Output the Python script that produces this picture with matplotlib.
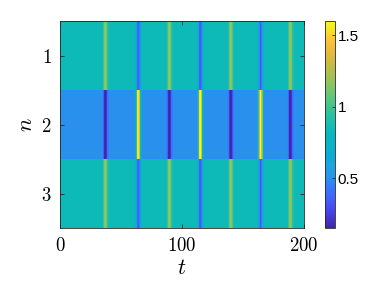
import numpy as np
import matplotlib
matplotlib.use("Agg")
import matplotlib.pyplot as plt
from matplotlib.colors import LinearSegmentedColormap

plt.rcParams['mathtext.fontset'] = 'cm'

# approximate MATLAB parula
parula_pts = [
    (0.00, (0.2422, 0.1504, 0.6603)),
    (0.05, (0.2717, 0.2184, 0.8355)),
    (0.10, (0.2788, 0.3048, 0.9500)),
    (0.15, (0.2606, 0.3950, 0.9893)),
    (0.20, (0.1996, 0.4856, 0.9855)),
    (0.25, (0.1540, 0.5902, 0.9218)),
    (0.30, (0.1178, 0.6426, 0.8765)),
    (0.35, (0.0383, 0.6747, 0.8374)),
    (0.40, (0.0287, 0.7003, 0.7938)),
    (0.45, (0.0238, 0.7201, 0.7510)),
    (0.50, (0.0820, 0.7423, 0.6976)),
    (0.55, (0.1700, 0.7600, 0.6200)),
    (0.60, (0.2836, 0.7747, 0.5387)),
    (0.65, (0.4221, 0.7781, 0.4497)),
    (0.70, (0.5550, 0.7700, 0.3700)),
    (0.75, (0.6828, 0.7498, 0.3064)),
    (0.80, (0.8000, 0.7300, 0.2600)),
    (0.85, (0.9050, 0.7300, 0.2300)),
    (0.90, (0.9900, 0.7450, 0.2300)),
    (0.95, (0.9650, 0.8700, 0.1700)),
    (1.00, (0.9763, 0.9831, 0.0538)),
]
parula = LinearSegmentedColormap.from_list("parula", parula_pts)

# data
t = np.arange(0, 200.5, 0.5)
rows = [1, 2, 3]
baseline = [0.84, 0.50, 0.84]
dip_times = [37.0, 89.5, 140.0, 189.0]      # row 2 dips, rows 1/3 rise
peak_times = [64.0, 115.0, 164.5]           # row 2 peaks, rows 1/3 dip
amp_at_dips = [0.33, -0.35, 0.33]
amp_at_peaks = [-0.50, 1.10, -0.50]
# pulse shape, in grid steps of 0.5 around each event time
pulse_steps = [-5, -4, -3, -2, -1, 0, 1, 2, 3, 4, 5, 6, 7]
pulse_profile = [0.05, 0.15, 0.4, 0.75, 0.95, 1.0, 0.95, 0.8, 0.55, 0.3, 0.15, 0.06, 0.0]

Z = np.array([np.full(len(t), b) for b in baseline])
for r in range(len(rows)):
    for times, amps in [(dip_times, amp_at_dips), (peak_times, amp_at_peaks)]:
        for tc in times:
            i0 = int(round(tc / 0.5))
            for s, p in zip(pulse_steps, pulse_profile):
                if 0 <= i0 + s < len(t):
                    Z[r, i0 + s] += amps[r] * p

fig = plt.figure(figsize=(3.82, 2.86), dpi=100)
ax = fig.add_axes([60/382, 1-228/286, 244/382, 207/286])
im = ax.imshow(Z, cmap=parula, aspect='auto', interpolation='nearest',
               extent=[t[0], t[-1], 3.5, 0.5], vmin=Z.min(), vmax=Z.max())
ax.set_xlim(0, 200)
ax.set_ylim(3.5, 0.5)
ax.set_xticks([0, 100, 200])
ax.set_xticklabels(['$0$', '$100$', '$200$'], fontsize=13.5)
ax.set_yticks(rows)
ax.set_yticklabels(['$%d$' % r for r in rows], fontsize=13.5)
ax.tick_params(direction='in', length=3, width=0.6, color='#262626',
               top=True, right=True, pad=6)
for sp in ax.spines.values():
    sp.set_color('#262626')
    sp.set_linewidth(0.6)
ax.set_xlabel('$t$', fontsize=16, labelpad=2)
ax.set_ylabel('$n$', fontsize=16, labelpad=4)

cax = fig.add_axes([325/382, 1-228/286, 10/382, 207/286])
cb = fig.colorbar(im, cax=cax)
cb.set_ticks([0.5, 1, 1.5])
cb.set_ticklabels(['0.5', '1', '1.5'])
cax.tick_params(direction='in', length=2.5, width=0.6, color='#262626',
                labelsize=11, pad=2)
for lab in cax.get_yticklabels():
    lab.set_family('Liberation Sans')
cb.outline.set_edgecolor('#262626')
cb.outline.set_linewidth(0.6)

fig.savefig('out.png', dpi=100)
